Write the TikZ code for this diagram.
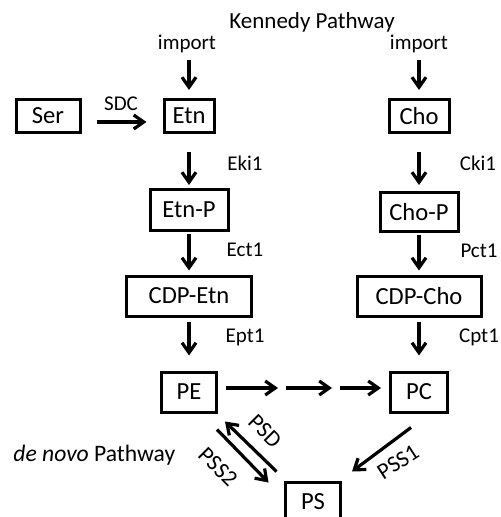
\documentclass[tikz,border=0pt]{standalone}
\usepackage{fontspec}
\setmainfont{Carlito}
\usetikzlibrary{arrows.meta}

\begin{document}
\begin{tikzpicture}[x=0.5pt, y=-0.5pt,
    >={Straight Barb[length=5pt,width=7pt]},
    box/.style={draw, line width=1.5pt, inner sep=0pt, minimum height=20pt, font=\fontsize{12.3}{14}\selectfont},
    enz/.style={font=\fontsize{10.5}{12}\selectfont},
    diag/.style={inner sep=1pt, font=\fontsize{11.5}{13}\selectfont},
    flow/.style={->, line width=1.6pt}]
  \useasboundingbox (0,0) rectangle (501,517);

  \node[font=\fontsize{11.5}{13}\selectfont] (kennedy) at (312,22) {Kennedy Pathway};
  \node[font=\fontsize{11.8}{14}\selectfont, anchor=west, inner sep=0pt] (denovo) at (13,455) {\textit{de novo} Pathway};

  % Etn branch
  \node[box, minimum width=32pt, minimum height=16.5pt] (ser) at (48,116) {Ser};
  \node[box, minimum width=25pt, minimum height=16.5pt] (etn) at (189,116) {Etn};
  \node[box, minimum width=39pt, minimum height=20.5pt] (etnp) at (189,210) {Etn-P};
  \node[box, minimum width=62.5pt] (cdpetn) at (189,296) {CDP-Etn};
  \node[box, minimum width=27.5pt] (pe) at (189,392) {PE};

  % Cho branch
  \node[box, minimum width=30pt, minimum height=16.5pt] (cho) at (419,116) {Cho};
  \node[box, minimum width=39pt, minimum height=19.5pt] (chop) at (419,212) {Cho-P};
  \node[box, minimum width=62pt] (cdpcho) at (419,296) {CDP-Cho};
  \node[box, minimum width=28.5pt] (pc) at (419,392) {PC};

  \node[box, minimum width=27.5pt] (ps) at (313,502) {PS};

  \node[enz] (impl) at (187,44) {import};
  \node[enz] (impr) at (419,44) {import};

  % enzymes
  \node[enz] (sdc) at (121,104) {SDC};
  \node[enz] (eki) at (245,163) {Eki1};
  \node[enz] (ect) at (245,250) {Ect1};
  \node[enz] (ept) at (245,337) {Ept1};
  \node[enz] (cki) at (478,163) {Cki1};
  \node[enz] (pct) at (479,251) {Pct1};
  \node[enz] (cpt) at (479,337) {Cpt1};

  \draw[flow, shorten >=4pt] (impl.south -| etn) -- (etn);
  \draw[flow, shorten >=4pt] (impr) -- (cho);
  \draw[flow, shorten <=7.5pt, shorten >=8pt] ([yshift=-3pt]ser.east) -- ([yshift=-3pt]etn.west);

  \draw[flow, shorten <=9pt, shorten >=1.5pt] (etn) -- (etnp);
  \draw[flow, shorten <=1pt, shorten >=2pt] (etnp) -- (cdpetn);
  \draw[flow, shorten <=2pt, shorten >=7.5pt] (cdpetn) -- (pe);
  \draw[flow, shorten <=9pt, shorten >=3pt] (cho) -- (chop);
  \draw[flow, shorten <=1pt, shorten >=2pt] (chop) -- (cdpcho);
  \draw[flow, shorten <=2pt, shorten >=7.5pt] (cdpcho) -- (pc);

  % PE -> PC, several steps
  \coordinate (m1) at (282,388);
  \coordinate (m2) at (336,388);
  \draw[flow, shorten <=4pt, shorten >=2pt] ([yshift=2pt]pe.east) -- (m1);
  \draw[flow, shorten <=2pt, shorten >=2pt] (m1) -- (m2);
  \draw[flow, shorten <=2pt, shorten >=4pt] (m2) -- ([yshift=2pt]pc.west);

  % PS reactions
  \draw[flow] ([xshift=-0.5pt,yshift=-8pt]pe.south east) -- ([xshift=-7.75pt,yshift=-1pt]ps.north west);
  \draw[flow] ([xshift=-3.75pt,yshift=4.5pt]ps.north west) -- ([xshift=3.5pt,yshift=-4pt]pe.south east);
  \draw[flow] ([xshift=-4pt,yshift=-7pt]pc.south) -- ([xshift=5pt,yshift=4.5pt]ps.north east);

  \node[diag, rotate=-45] (psd) at (265,431) {PSD};
  \node[diag, rotate=-45] (pss2) at (218,467) {PSS2};
  \node[diag, rotate=33] (pss1) at (398,462) {PSS1};
\end{tikzpicture}
\end{document}
